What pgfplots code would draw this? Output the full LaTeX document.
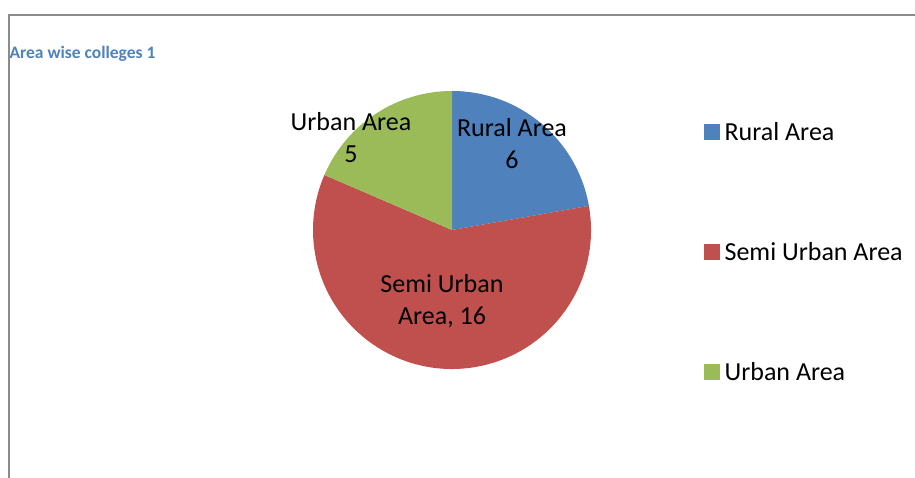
\documentclass[border=0pt]{standalone}
\usepackage{fontspec}
\setmainfont{Carlito}
\usepackage{pgfplots}
\usepackage{pgfplotstable}
\pgfplotsset{compat=1.18}

\definecolor{rural}{HTML}{4F81BD}
\definecolor{semi}{HTML}{C0504D}
\definecolor{urban}{HTML}{9BBB59}
\definecolor{framegray}{HTML}{8C8C8C}
\definecolor{titleblue}{HTML}{4F81BD}

% colleges per area
\pgfplotstableread{
name value
Rural 6
Semi 16
Urban 5
}\piedata

\begin{document}
\begin{tikzpicture}
\pgfplotstablegetelem{0}{value}\of\piedata \edef\va{\pgfplotsretval}
\pgfplotstablegetelem{1}{value}\of\piedata \edef\vb{\pgfplotsretval}
\pgfplotstablegetelem{2}{value}\of\piedata \edef\vc{\pgfplotsretval}
\pgfmathsetmacro\tot{\va+\vb+\vc}
\pgfmathsetmacro\angA{90-360*\va/\tot}
\pgfmathsetmacro\angB{\angA-360*\vb/\tot}
\pgfmathsetmacro\angC{\angB-360*\vc/\tot}
\begin{axis}[
    name=ax,
    width=915pt, height=478pt,
    scale only axis,
    xmin=0, xmax=915, ymin=0, ymax=478,
    axis lines=none,
    clip=false,
    legend cell align=left,
    legend style={draw=none, fill=none, at={(701/915,360/478)}, anchor=north west,
        font=\fontsize{26}{30}\selectfont, row sep=92pt,
        nodes={text height=18pt, text depth=6pt, inner sep=2pt}},
]
% frame
\draw[framegray, line width=2pt] (axis cs:9,0) -- (axis cs:9,463) -- (axis cs:915,463);
% slices
\fill[rural] (axis cs:452,248) -- ++(90:139pt) arc[start angle=90, end angle=\angA, radius=139pt] -- cycle;
\fill[semi] (axis cs:452,248) -- ++(\angA:139pt) arc[start angle=\angA, end angle=\angB, radius=139pt] -- cycle;
\fill[urban] (axis cs:452,248) -- ++(\angB:139pt) arc[start angle=\angB, end angle=\angC, radius=139pt] -- cycle;
% labels
\node[align=center, font=\fontsize{26}{32}\selectfont] at (axis cs:512,334) {Rural Area\\6};
\node[align=center, font=\fontsize{26}{32}\selectfont] at (axis cs:351,340) {Urban Area\\5};
\node[align=center, font=\fontsize{26}{32}\selectfont] at (axis cs:442,177) {Semi Urban\\Area, 16};
\node[anchor=west, titleblue, font=\bfseries\fontsize{17.5}{20}\selectfont] at (axis cs:6,424) {Area wise colleges 1};
% legend
\addlegendimage{legend image code/.code={\fill[rural] (0pt,-5pt) rectangle (15pt,10pt); \path (18pt,0pt);}}
\addlegendentry{Rural Area}
\addlegendimage{legend image code/.code={\fill[semi] (0pt,-5pt) rectangle (15pt,10pt); \path (18pt,0pt);}}
\addlegendentry{Semi Urban Area}
\addlegendimage{legend image code/.code={\fill[urban] (0pt,-5pt) rectangle (15pt,10pt); \path (18pt,0pt);}}
\addlegendentry{Urban Area}
\end{axis}
\pgfresetboundingbox
\path (ax.south west) rectangle (ax.north east);
\end{tikzpicture}
\end{document}
